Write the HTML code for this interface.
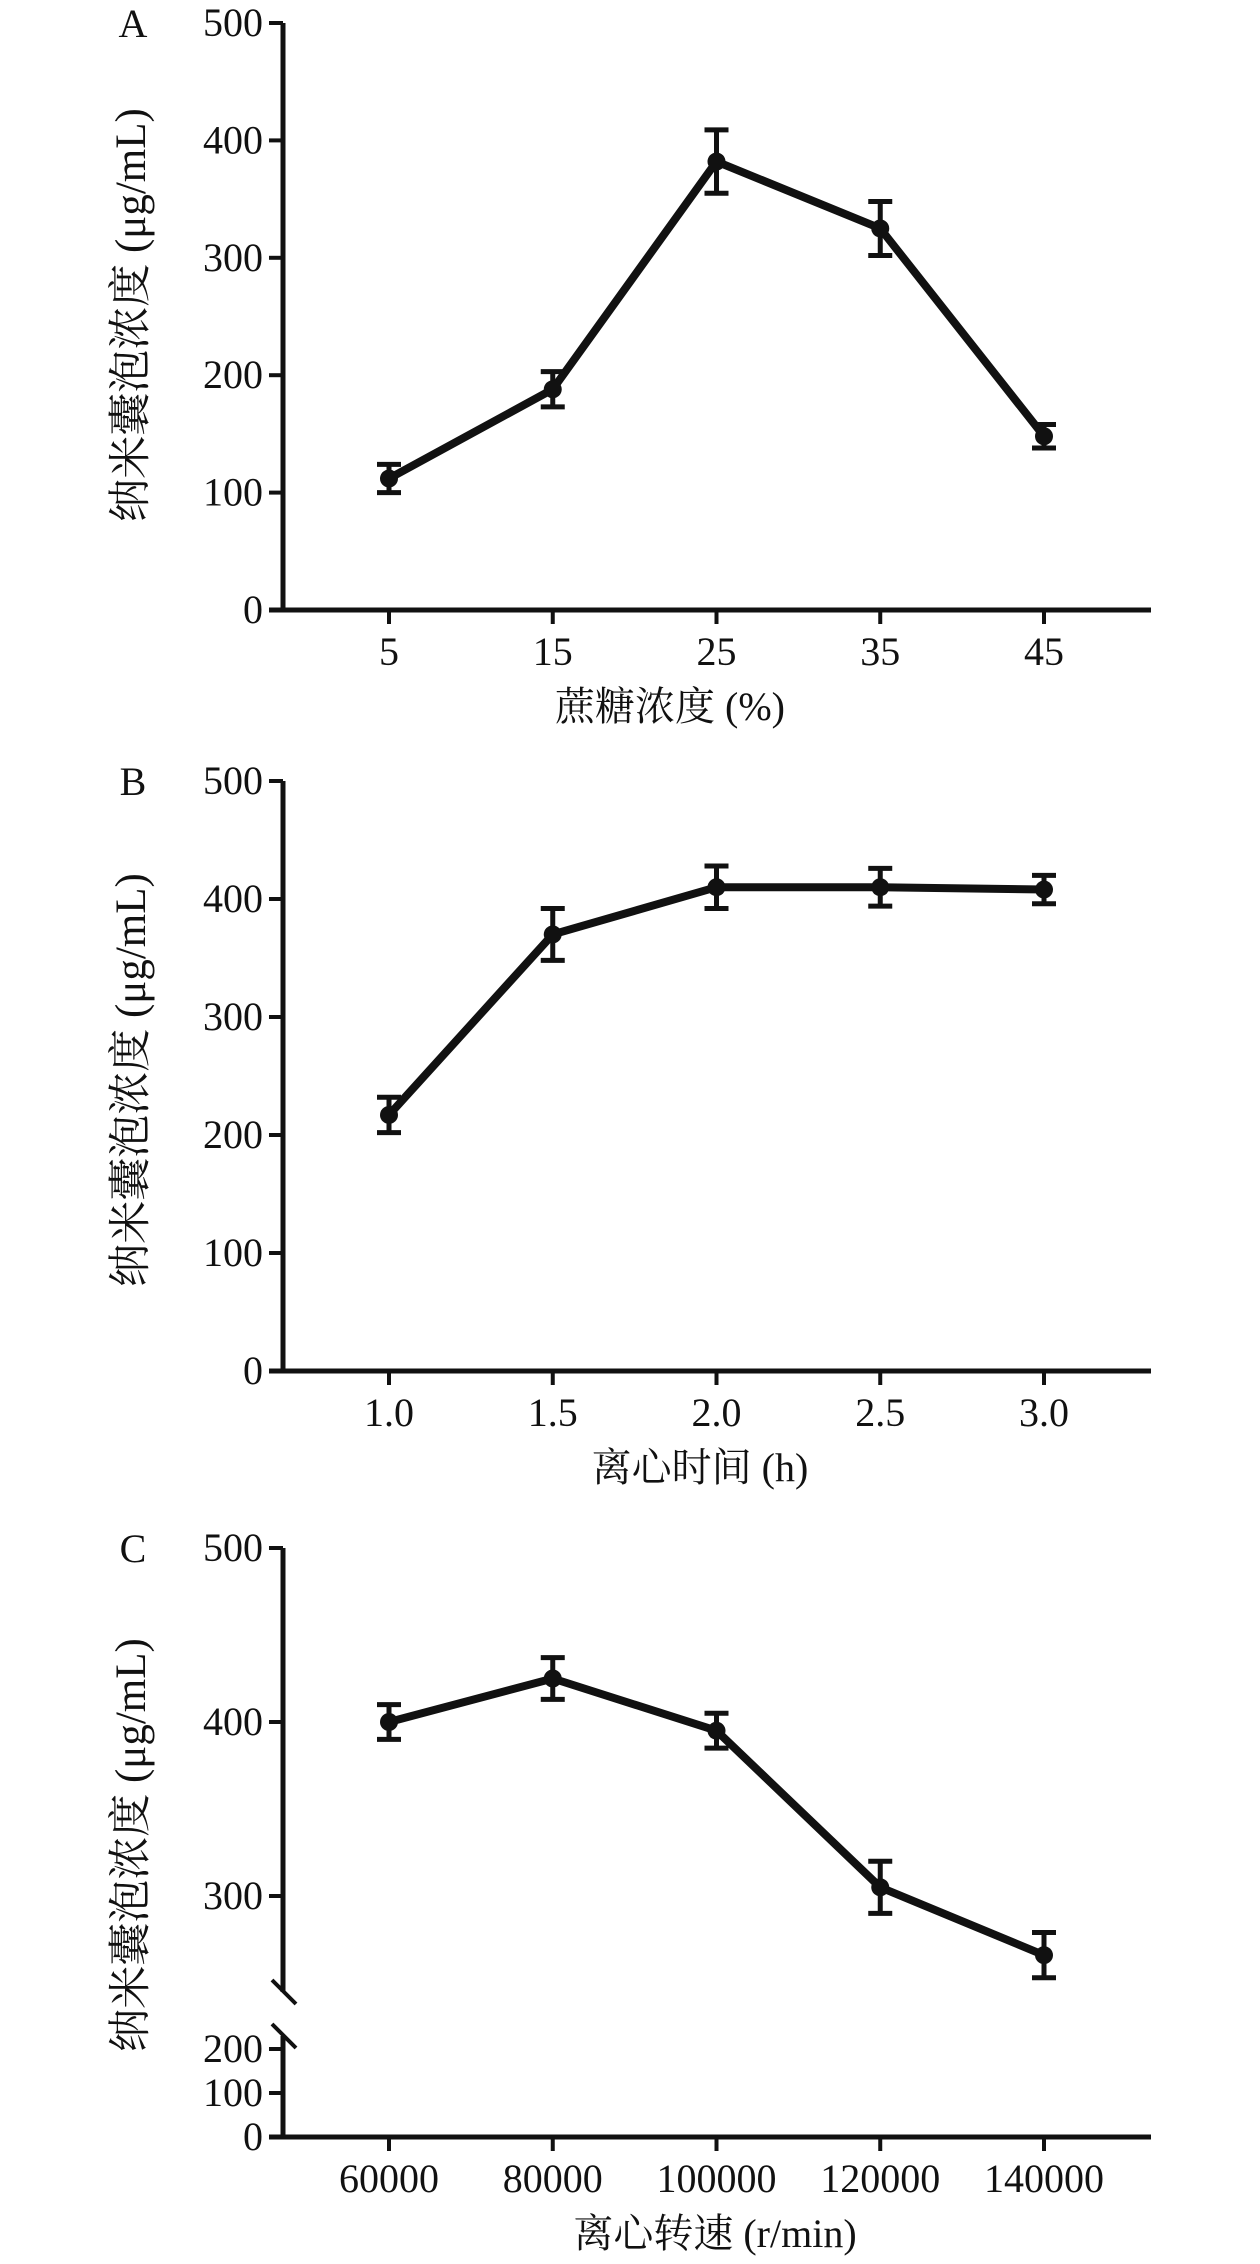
<!DOCTYPE html>
<html><head><meta charset="utf-8"><style>
body{margin:0;background:#fff}
svg text{font-family:"Liberation Serif","Noto Serif CJK SC","Noto Sans CJK SC",serif;fill:#111}
</style></head><body>
<svg id="s" width="1260" height="2259" viewBox="0 0 1260 2259" xmlns="http://www.w3.org/2000/svg"></svg>
<script>
const catsA=["5","15","25","35","45"];
const valsA=[112,188,382,325,148];
const errA=[12,15,27,23,10];
const catsB=["1.0","1.5","2.0","2.5","3.0"];
const valsB=[217,370,410,410,408];
const errB=[15,22,18,16,12];
const catsC=["60000","80000","100000","120000","140000"];
const valsC=[400,425,395,305,266];
const errC=[10,12,10,15,13];
const yTicksAB=[0,100,200,300,400,500];
const yTicksCUpper=[300,400,500];
const yTicksCLower=[0,100,200];
const NS="http://www.w3.org/2000/svg";
const s=document.getElementById('s');
function mk(t,a,p){const e=document.createElementNS(NS,t);for(const k in a)e.setAttribute(k,a[k]);(p||s).appendChild(e);return e;}
function txt(x,y,str,size,anchor,p,rot){const e=mk('text',{x:x,y:y,'font-size':size,'text-anchor':anchor||'middle'},p);if(rot)e.setAttribute('transform',rot);e.textContent=str;return e;}

function panel(cfg){
  const g=mk('g',{});
  
  
  const ax=283, x0=389, x1=1044;
  const xs=i=>x0+(x1-x0)*i/4;
  const ys=cfg.ys;
  const yax=mk('path',{d:cfg.yAxisPath,stroke:'#111','stroke-width':5,fill:'none'},g);
  
  
  const xax=mk('line',{x1:ax-14,x2:1151,y1:cfg.y0,y2:cfg.y0,stroke:'#111','stroke-width':5},g);
  
  
  cfg.yticks.forEach(v=>{
    const y=ys(v);
    const t=mk('line',{x1:ax-14,x2:ax,y1:y,y2:y,stroke:'#111','stroke-width':4},g);
    
    
    const l=txt(ax-20,y+13,String(v),40,'end',g);
    
    
  });
  cfg.cats.forEach((c,i)=>{
    const x=xs(i);
    const t=mk('line',{x1:x,x2:x,y1:cfg.y0,y2:cfg.y0+14,stroke:'#111','stroke-width':4},g);
    
    
    const l=txt(x,cfg.y0+55,c,40,'middle',g);
    
    
  });
  const pts=cfg.vals.map((v,i)=>xs(i)+','+ys(v)).join(' ');
  const ln=mk('polyline',{points:pts,fill:'none',stroke:'#111','stroke-width':8,'stroke-linejoin':'miter'},g);
  
  
  cfg.vals.forEach((v,i)=>{
    const x=xs(i),yt=ys(v+cfg.err[i]),yb=ys(v-cfg.err[i]);
    const e=mk('path',{d:`M${x},${yt}V${yb}M${x-12},${yt}H${x+12}M${x-12},${yb}H${x+12}`,stroke:'#111','stroke-width':5,fill:'none'},g);
    
    
    const m=mk('circle',{cx:x,cy:ys(v),r:9,fill:'#111'},g);
    
    
  });
  const yt=txt(0,0,'纳米囊泡浓度 (μg/mL)',43,'middle',g,`translate(145,${cfg.ytitleY}) rotate(-90)`);
  
  
  const xt=txt(cfg.xtitleX,cfg.y0+110,cfg.xtitle,40,'middle',g);
  
  
  const pl=txt(133,cfg.top+14,cfg.label,40,'middle',g);
  
  
}
(function(){const top=23,y0=610;const ys=v=>y0-(y0-top)*v/500;
panel({name:'panel-a',label:'A',top:top,y0:y0,ys:ys,yticks:yTicksAB,cats:catsA,vals:valsA,err:errA,
 yAxisPath:`M283,${top}V${y0}`,ytitleY:315,xtitle:'蔗糖浓度 (%)',xtitleX:670});})();
(function(){const top=781,y0=1371;const ys=v=>y0-(y0-top)*v/500;
panel({name:'panel-b',label:'B',top:top,y0:y0,ys:ys,yticks:yTicksAB,cats:catsB,vals:valsB,err:errB,
 yAxisPath:`M283,${top}V${y0}`,ytitleY:1080,xtitle:'离心时间 (h)',xtitleX:700});})();
(function(){const top=1548,y0=2137;
const ys=v=>v>=240?(1722-(v-400)*1.74):(y0-v*0.44);
const tickVals=yTicksCLower.concat(yTicksCUpper);
panel({name:'panel-c',label:'C',top:top,y0:y0,ys:ys,yticks:tickVals,cats:catsC,vals:valsC,err:errC,
 yAxisPath:`M283,${top}V1992M283,2036V${y0}`,ytitleY:1845,xtitle:'离心转速 (r/min)',xtitleX:715});
const b1=mk('line',{x1:272,y1:1980,x2:296,y2:2004,stroke:'#111','stroke-width':4});


const b2=mk('line',{x1:272,y1:2024,x2:296,y2:2048,stroke:'#111','stroke-width':4});


})();
</script>
</body></html>
